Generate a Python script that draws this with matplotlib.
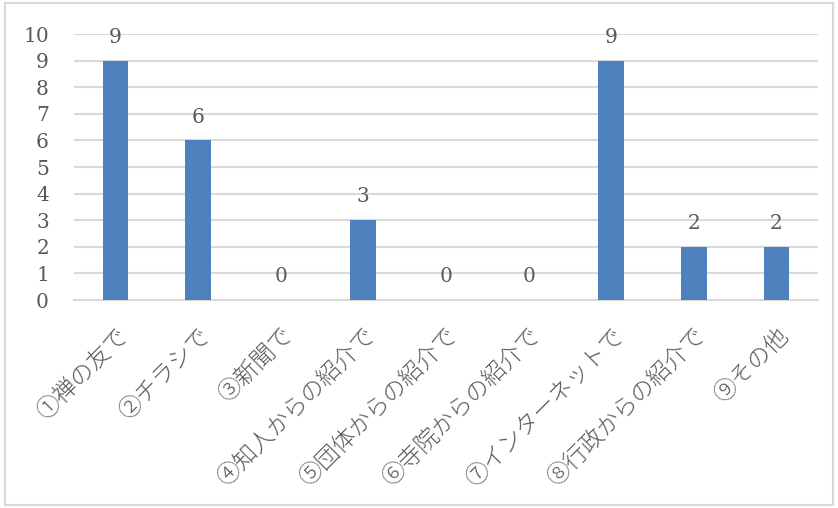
import matplotlib
matplotlib.use("Agg")
import matplotlib.pyplot as plt
from matplotlib.patches import Rectangle

categories = ["①禅の友で", "②チラシで", "③新聞で", "④知人からの紹介で", "⑤団体からの紹介で",
              "⑥寺院からの紹介で", "⑦インターネットで", "⑧行政からの紹介で", "⑨その他"]
values = [9, 6, 0, 3, 0, 0, 9, 2, 2]
yticks = list(range(0, 11))

bar_color = "#4F81BD"
text_color = "#595959"
grid_color = "#D9D9D9"

fig = plt.figure(figsize=(8.38, 5.08), dpi=100)
fig.patches.append(Rectangle((0.006, 0.006), 0.988, 0.988, transform=fig.transFigure,
                             fill=False, edgecolor=grid_color, linewidth=1.5))
ax = fig.add_axes([0.0883, 0.4094, 0.8877, 0.5236])

x = list(range(len(categories)))
bars = ax.bar(x, values, width=0.31, color=bar_color, zorder=3)
ax.set_xlim(-0.5, len(categories) - 0.5)
ax.set_ylim(0, 10)
ax.set_yticks(yticks)
ax.set_yticklabels([str(t) for t in yticks], family="DejaVu Serif", fontsize=14.5, color=text_color)
ax.yaxis.grid(True, color=grid_color, linewidth=1.5, zorder=0)
ax.set_axisbelow(True)
for s in ["top", "right", "left"]:
    ax.spines[s].set_visible(False)
ax.spines["bottom"].set_color(grid_color)
ax.spines["bottom"].set_linewidth(1.5)
ax.tick_params(axis="y", length=0, pad=18)
ax.tick_params(axis="x", length=0, pad=17)
ax.set_xticks(x)
ax.set_xticklabels(categories, rotation=45, ha="right", rotation_mode="anchor",
                   family=["Noto Sans CJK JP", "DejaVu Sans"], fontsize=17, color=text_color,
                   fontweight="light")

for xi, v in zip(x, values):
    ax.annotate(str(v), (xi, v), xytext=(0, 10), textcoords="offset points",
                ha="center", va="bottom", family="DejaVu Serif", fontsize=14.5, color=text_color)

fig.savefig("out.png", dpi=100)
